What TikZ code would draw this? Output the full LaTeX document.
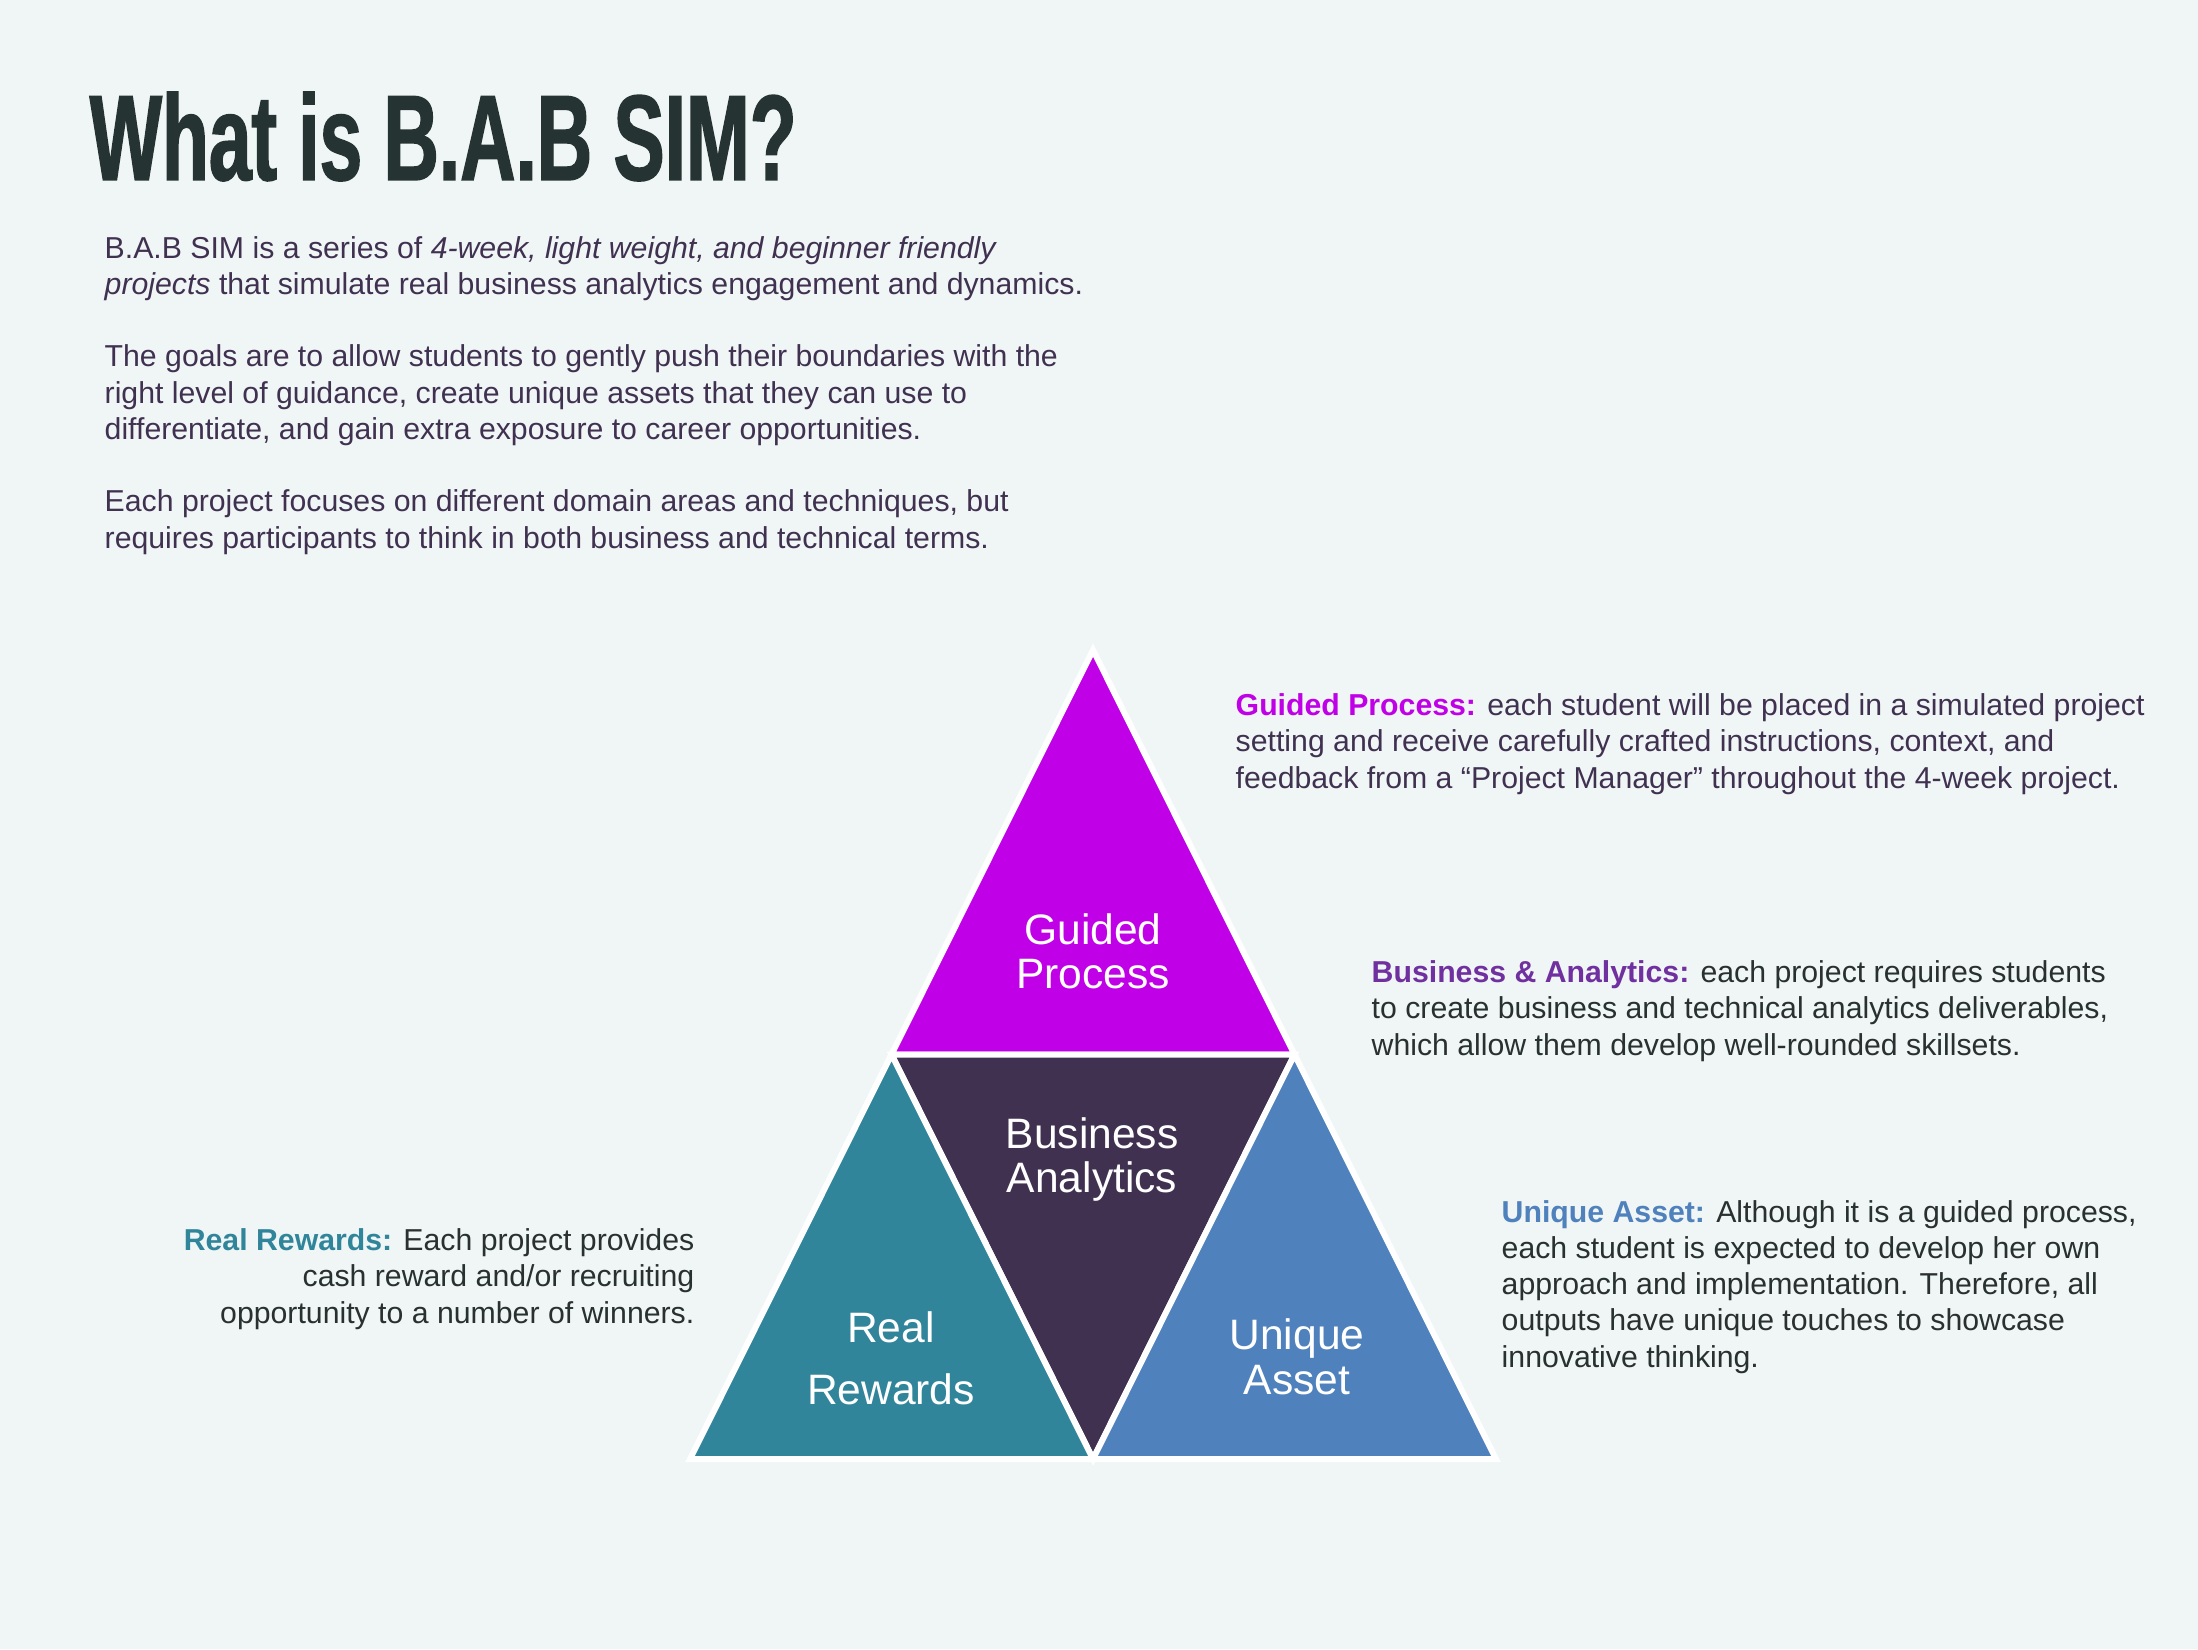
\documentclass[tikz,border=0pt]{standalone}
\usepackage{fontspec}
\setmainfont{Liberation Sans}
\newfontfamily\titleFont[FakeStretch=0.63,FakeBold=1.2]{Liberation Sans}
\usetikzlibrary{calc}
\definecolor{bgTeal}{RGB}{240,246,245}
\definecolor{titleDark}{RGB}{38,51,51}
\definecolor{textPurple}{RGB}{64,49,81}
\definecolor{textGrey}{RGB}{40,48,48}
\definecolor{guidedMagenta}{RGB}{192,0,230}
\definecolor{businessDark}{RGB}{64,49,81}
\definecolor{labelPurple}{RGB}{112,48,160}
\definecolor{rewardTeal}{RGB}{49,133,155}
\definecolor{assetBlue}{RGB}{79,129,189}

\begin{document}
\begin{tikzpicture}[x=0.01cm, y=-0.01cm,
    body/.style={anchor=base west, align=left, inner sep=0pt, font=\fontsize{8.6}{10.3}\selectfont},
    piece/.style={draw=white, line width=1.7pt, line join=miter},
    tlabel/.style={anchor=base, align=center, inner sep=0pt, text=white, font=\fontsize{12.1}{12.4}\selectfont}]
    \fill[bgTeal] (0,0) rectangle (2198,1649);
    \useasboundingbox (0,0) rectangle (2198,1649);
    \node[anchor=base west, inner sep=0pt, text=titleDark, font=\titleFont\bfseries\fontsize{34.6}{36}\selectfont] (title) at (89,180) {What is B.A.B SIM?};
    \node[body, text=textPurple] (intro) at (104,548) {B.A.B SIM is a series of \textit{4-week, light weight, and beginner friendly}\\
        \textit{projects} that simulate real business analytics engagement and dynamics.\\[10.3pt]
        The goals are to allow students to gently push their boundaries with the\\
        right level of guidance, create unique assets that they can use to\\
        differentiate, and gain extra exposure to career opportunities.\\[10.3pt]
        Each project focuses on different domain areas and techniques, but\\
        requires participants to think in both business and technical terms.};
    \coordinate (top) at (1093,650);
    \coordinate (botL) at (690,1459);
    \coordinate (botR) at (1496,1459);
    \coordinate (botM) at ($(botL)!0.5!(botR)$);
    \coordinate (midL) at ($(top)!0.5!(botL)$);
    \coordinate (midR) at ($(top)!0.5!(botR)$);
    \filldraw[piece, fill=guidedMagenta] (top) -- (midL) -- (midR) -- cycle;
    \filldraw[piece, fill=businessDark] (midL) -- (midR) -- (botM) -- cycle;
    \filldraw[piece, fill=rewardTeal] (midL) -- (botM) -- (botL) -- cycle;
    \filldraw[piece, fill=assetBlue] (midR) -- (botR) -- (botM) -- cycle;
    \node[tlabel] (guided) at (1093,988) {Guided\\Process};
    \node[tlabel] (business) at (1092,1192) {Business\\Analytics};
    \node[tlabel, font=\fontsize{12.1}{17.6}\selectfont] (rewards) at (891,1404) {Real\\Rewards};
    \node[tlabel, font=\fontsize{12.1}{12.8}\selectfont] (asset) at (1297,1394) {Unique\\Asset};
    \node[body, text=textPurple] (guidedText) at (1235,788) {\textbf{\color{guidedMagenta}Guided Process:} each student will be placed in a simulated project\\
        setting and receive carefully crafted instructions, context, and\\
        feedback from a “Project Manager” throughout the 4-week project.};
    \node[body, text=textGrey] (businessText) at (1371,1055) {\textbf{\color{labelPurple}Business \& Analytics:} each project requires students\\
        to create business and technical analytics deliverables,\\
        which allow them develop well-rounded skillsets.};
    \node[body, text=textGrey] (assetText) at (1501,1367) {\textbf{\color{assetBlue}Unique Asset:} Although it is a guided process,\\
        each student is expected to develop her own\\
        approach and implementation. Therefore, all\\
        outputs have unique touches to showcase\\
        innovative thinking.};
    \node[body, anchor=base east, align=right, text=textGrey] (rewardsText) at (695,1323) {\textbf{\color{rewardTeal}Real Rewards:} Each project provides\\
        cash reward and/or recruiting\\
        opportunity to a number of winners.};
\end{tikzpicture}
\end{document}
